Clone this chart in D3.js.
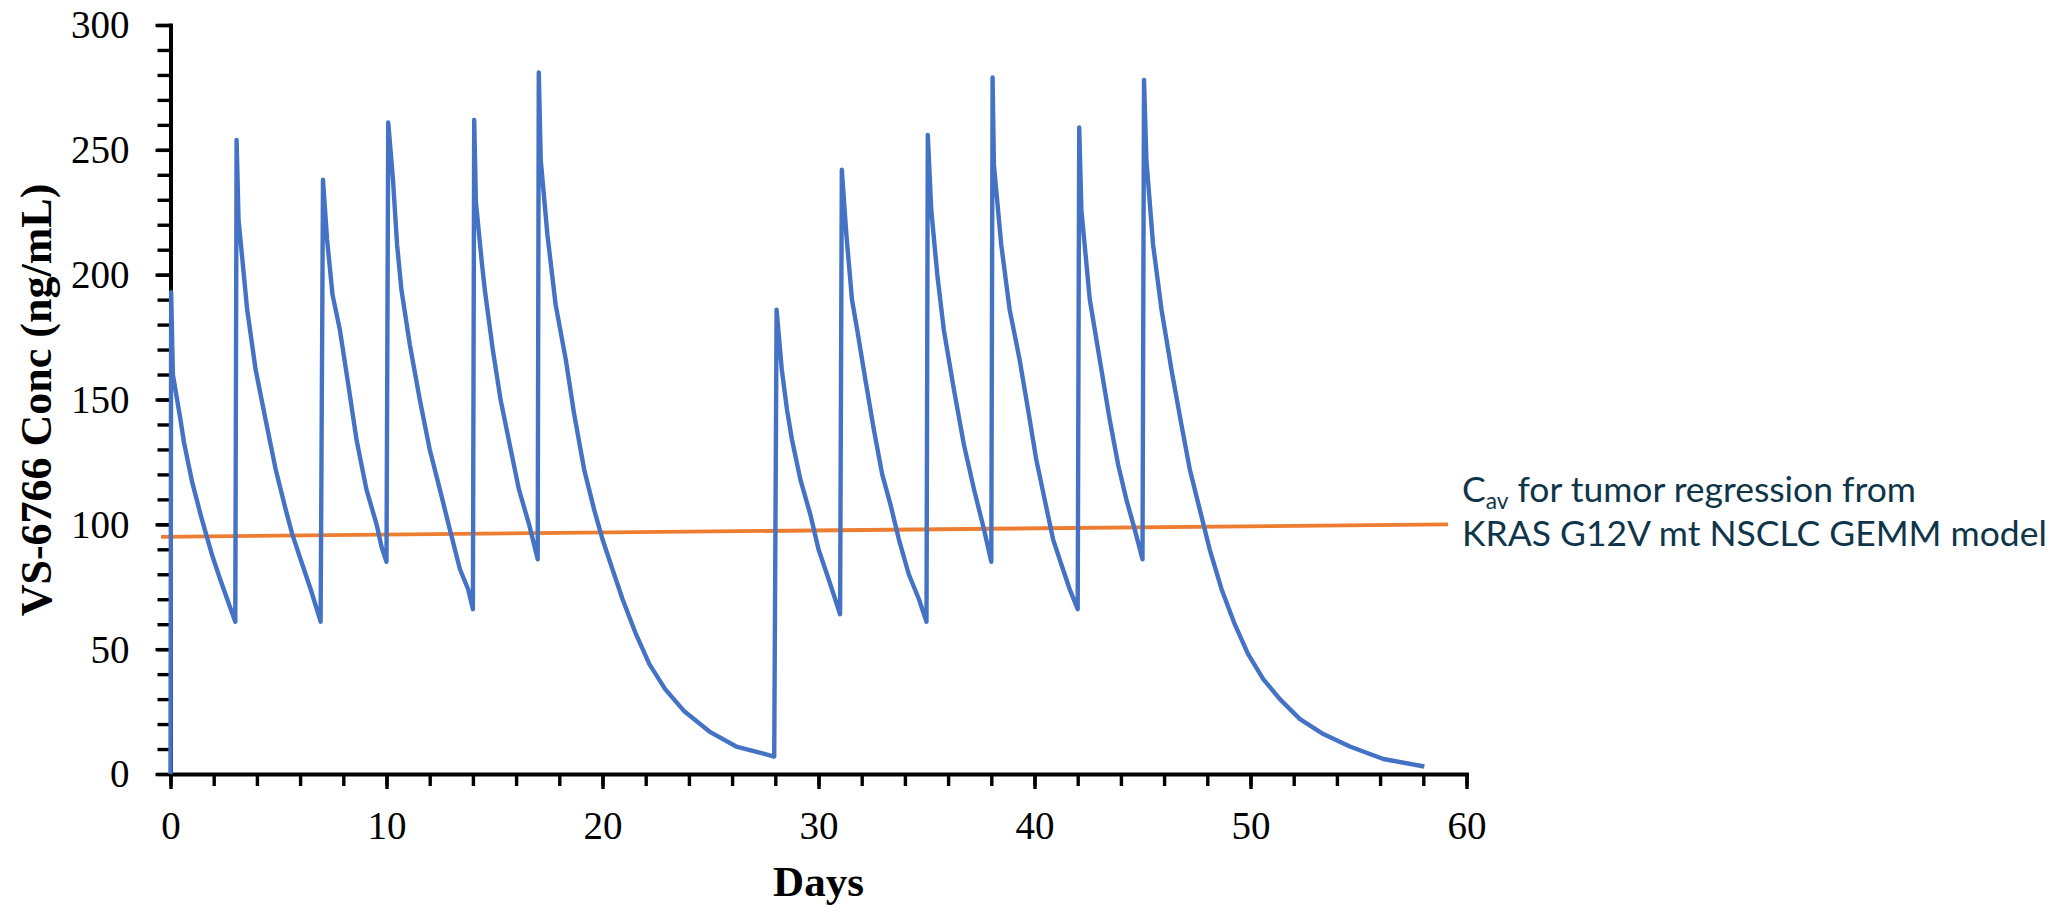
<!DOCTYPE html>
<html>
<head>
<meta charset="utf-8">
<script src="https://cdn.jsdelivr.net/npm/d3@7"></script>
<style>
  html, body { margin: 0; padding: 0; background: #ffffff; }
  svg { display: block; }
</style>
</head>
<body>
<svg id="chart" width="2057" height="905"></svg>
<script>
// ---- Data ----
// Simulated VS-6766 plasma concentration (ng/mL) over time (days)
const days = [
  0, 0.03, 0.11, 0.46, 0.62, 1.0, 1.39, 1.65, 1.95, 2.3, 2.75, 3.0,
  3.06, 3.15, 3.55, 3.94, 4.4, 4.87, 5.33, 5.64, 6.1, 6.49, 6.95,
  7.06, 7.25, 7.5, 7.84, 8.23, 8.61, 9.07, 9.54, 9.77, 10.0,
  10.08, 10.3, 10.49, 10.69, 11.08, 11.54, 12.0, 12.47, 12.93, 13.4, 13.78, 14.0,
  14.06, 14.14, 14.4, 14.55, 14.92, 15.28, 15.75, 16.13, 16.6, 17.0,
  17.05, 17.14, 17.45, 17.83, 18.3, 18.69, 19.15, 19.61, 20.0, 20.46, 20.93, 21.55, 22.17, 22.9, 23.8, 24.95, 26.19, 27.95,
  28.06, 28.3, 28.54, 28.77, 29.16, 29.62, 30.0, 30.47, 31.0,
  31.08, 31.29, 31.55, 31.79, 32.17, 32.56, 32.95, 33.33, 33.72, 34.18, 34.65, 35.0,
  35.06, 35.22, 35.5, 35.8, 36.27, 36.73, 37.2, 37.66, 38.0,
  38.06, 38.12, 38.46, 38.85, 39.31, 39.7, 40.08, 40.47, 40.86, 41.24, 41.63, 42.0,
  42.07, 42.17, 42.56, 43.02, 43.48, 43.87, 44.25, 44.64, 45.0,
  45.07, 45.18, 45.49, 45.88, 46.34, 46.8, 47.19, 47.65, 48.11, 48.66, 49.27, 49.89, 50.59, 51.36, 52.29, 53.37, 54.6, 56.15, 58.05
];
const conc = [
  0, 193, 160, 142, 133, 117, 104, 96, 87, 78, 67, 61,
  254, 222, 186, 162, 142, 122, 106, 96, 84, 74, 61,
  238, 214, 192, 178, 156, 134, 114, 100, 91, 85,
  261, 238, 212, 194, 172, 150, 130, 114, 98, 82, 74, 66,
  262, 229, 206, 194, 170, 150, 130, 114, 100, 86,
  281, 246, 216, 188, 166, 144, 122, 106, 94, 82, 70, 56, 44, 34, 25, 17, 11, 7,
  186, 162, 146, 134, 118, 104, 90, 78, 64,
  242, 216, 190, 178, 158, 138, 120, 108, 94, 80, 70, 61,
  256, 226, 200, 178, 154, 132, 114, 98, 85,
  279, 244, 212, 186, 166, 146, 126, 110, 94, 84, 74, 66,
  259, 226, 190, 166, 142, 124, 110, 98, 86,
  278, 246, 212, 186, 162, 140, 122, 106, 90, 74, 60, 48, 38, 30, 22, 16, 11, 6, 3
];

// C_av reference line (GEMM model), slightly sloped as drawn
const cavDays = [-0.44, 59.15];
const cavConc = [95, 100];

const xMajorTicks = [0, 10, 20, 30, 40, 50, 60];
const xMinorTicks = d3.range(0, 61, 2);
const yMajorTicks = [0, 50, 100, 150, 200, 250, 300];
const yMinorTicks = d3.range(0, 301, 10);

const xTitle = "Days";
const yTitle = "VS-6766 Conc (ng/mL)";
const noteLine1Main = "C";
const noteLine1Sub = "av";
const noteLine1Rest = " for tumor regression from";
const noteLine2 = "KRAS G12V mt NSCLC GEMM model";

// ---- Layout ----
const svg = d3.select("#chart");
const X0 = 170.5, X1 = 1466.5, Y0 = 774, Y1 = 25;

const x = d3.scaleLinear().domain([0, 60]).range([X0, X1]);
const y = d3.scaleLinear().domain([0, 300]).range([Y0, Y1]);

const serif = "'Liberation Serif', 'Times New Roman', Times, serif";

// Minor ticks
svg.append("g")
  .attr("transform", `translate(0,${Y0})`)
  .call(d3.axisBottom(x).tickValues(xMinorTicks).tickSize(12).tickSizeOuter(0).tickFormat(""))
  .call(g => g.select(".domain").remove())
  .call(g => g.selectAll(".tick line").attr("stroke", "#000").attr("stroke-width", 3.4));

svg.append("g")
  .attr("transform", `translate(${X0},0)`)
  .call(d3.axisLeft(y).tickValues(yMinorTicks).tickSize(13).tickSizeOuter(0).tickFormat(""))
  .call(g => g.select(".domain").remove())
  .call(g => g.selectAll(".tick line").attr("stroke", "#000").attr("stroke-width", 3.4));

// Major ticks with labels
const xAxis = svg.append("g")
  .attr("transform", `translate(0,${Y0})`)
  .call(d3.axisBottom(x).tickValues(xMajorTicks).tickSize(15).tickSizeOuter(0).tickFormat(d3.format("d")));
xAxis.select(".domain").attr("stroke", "#000").attr("stroke-width", 4).attr("stroke-linecap", "square");
xAxis.selectAll(".tick line").attr("stroke", "#000").attr("stroke-width", 3.4);
xAxis.selectAll(".tick text")
  .attr("y", 65).attr("dy", null)
  .attr("fill", "#000")
  .style("font-family", serif).style("font-size", "39px");

const yAxis = svg.append("g")
  .attr("transform", `translate(${X0},0)`)
  .call(d3.axisLeft(y).tickValues(yMajorTicks).tickSize(15).tickSizeOuter(0).tickPadding(26).tickFormat(d3.format("d")));
yAxis.select(".domain").attr("stroke", "#000").attr("stroke-width", 4).attr("stroke-linecap", "square");
yAxis.selectAll(".tick line").attr("stroke", "#000").attr("stroke-width", 3.4);
yAxis.selectAll(".tick text")
  .attr("dy", "0.33em")
  .attr("fill", "#000")
  .style("font-family", serif).style("font-size", "39px");

// Axis titles
svg.append("text")
  .attr("x", 818.5).attr("y", 896)
  .attr("text-anchor", "middle")
  .style("font-family", serif).style("font-weight", "bold").style("font-size", "43px")
  .text(xTitle);

svg.append("text")
  .attr("transform", "translate(51,400) rotate(-90)")
  .attr("text-anchor", "middle")
  .style("font-family", serif).style("font-weight", "bold").style("font-size", "44px")
  .text(yTitle);

// C_av line
const cavData = cavDays.map((d, i) => [d, cavConc[i]]);
svg.append("path")
  .datum(cavData)
  .attr("fill", "none")
  .attr("stroke", "#ED7D31")
  .attr("stroke-width", 3.8)
  .attr("d", d3.line().x(d => x(d[0])).y(d => y(d[1])));

// Concentration curve
const pk = days.map((d, i) => [d, conc[i]]);
svg.append("path")
  .datum(pk)
  .attr("fill", "none")
  .attr("stroke", "#4472C4")
  .attr("stroke-width", 4.4)
  .attr("stroke-linejoin", "round")
  .attr("stroke-linecap", "butt")
  .attr("d", d3.line().x(d => x(d[0])).y(d => y(d[1])));

// Annotation
const noteFont = "Lato, 'Open Sans', 'Noto Sans', sans-serif";
const noteColor = "#0e3549";
const t1 = svg.append("text")
  .attr("x", 1462).attr("y", 502)
  .style("font-family", noteFont).style("font-size", "31px").attr("fill", noteColor);
t1.append("tspan").text(noteLine1Main);
t1.append("tspan").attr("dy", 7).style("font-size", "20px").text(noteLine1Sub);
t1.append("tspan").attr("dy", -7).text(noteLine1Rest);

const t2 = svg.append("text")
  .attr("x", 1462).attr("y", 546)
  .style("font-family", noteFont).style("font-size", "31px").attr("fill", noteColor)
  .text(noteLine2);

// fit annotation width to the reference (~585px for line 2)
const w2 = t2.node().getComputedTextLength();
const k = 585 / w2;
const fs = 31 * k;
t2.style("font-size", fs + "px");
t1.style("font-size", fs + "px");
t1.select("tspan:nth-child(2)").style("font-size", (fs * 0.64) + "px");
</script>
</body>
</html>
